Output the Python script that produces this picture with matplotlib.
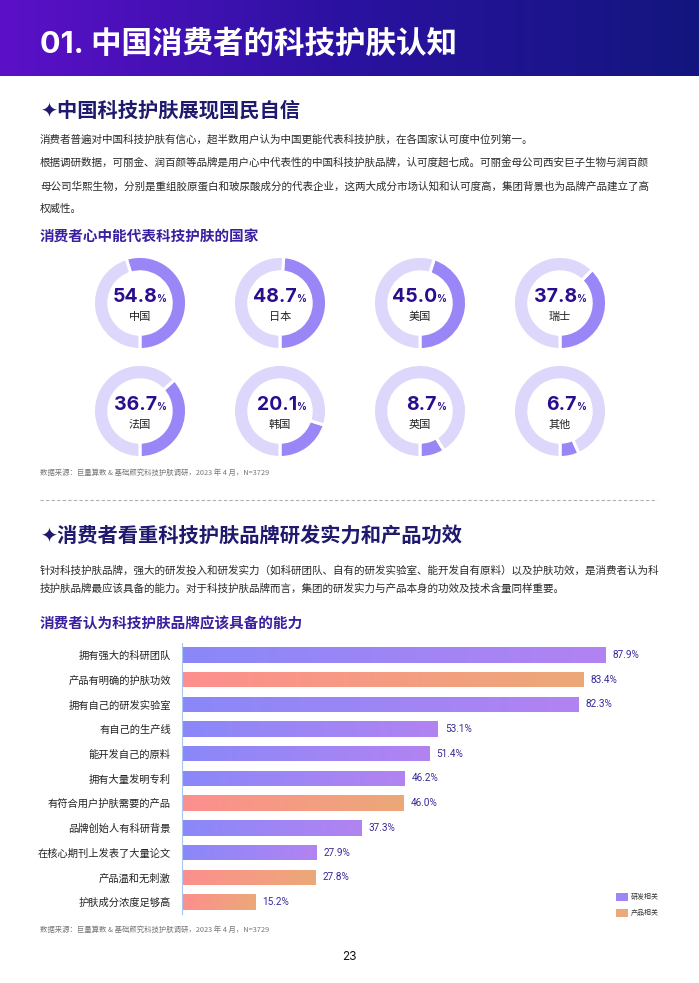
import numpy as np
import matplotlib.pyplot as plt
from matplotlib.colors import LinearSegmentedColormap
from matplotlib.patches import Rectangle

plt.rcParams['font.family'] = ['Noto Sans CJK SC', 'DejaVu Sans']

W, H = 699, 983

# donut data: which country stands for skin-care tech
countries = ['中国', '日本', '美国', '瑞士', '法国', '韩国', '英国', '其他']
country_pct = [54.8, 48.7, 45.0, 37.8, 36.7, 20.1, 8.7, 6.7]

# bar data: what a tech skin-care brand should have
abilities = ['拥有强大的科研团队', '产品有明确的护肤功效', '拥有自己的研发实验室', '有自己的生产线',
             '能开发自己的原料', '拥有大量发明专利', '有符合用户护肤需要的产品', '品牌创始人有科研背景',
             '在核心期刊上发表了大量论文', '产品温和无刺激', '护肤成分浓度足够高']
ability_pct = [87.9, 83.4, 82.3, 53.1, 51.4, 46.2, 46.0, 37.3, 27.9, 27.8, 15.2]
ability_group = ['研发相关', '产品相关', '研发相关', '研发相关', '研发相关', '研发相关',
                 '产品相关', '研发相关', '研发相关', '产品相关', '产品相关']

group_colors = {'研发相关': ('#8a88f9', '#b283f1'), '产品相关': ('#fd8f8e', '#eca878')}

NAVY = '#1f1a6e'
INDIGO = '#3a1fa0'
NUM = '#2a0d8c'
NUMFONT = ['Inter', 'Noto Sans CJK SC', 'DejaVu Sans']

fig = plt.figure(figsize=(W / 100, H / 100), dpi=100)
fig.patch.set_facecolor('white')


def px_axes(x0, y0, x1, y1):
    return fig.add_axes([x0 / W, 1 - y1 / H, (x1 - x0) / W, (y1 - y0) / H])


def T(x, y, s, **kw):
    kw.setdefault('va', 'center')
    return fig.text(x / W, 1 - y / H, s, **kw)


# background axes in pixel coords
bg = fig.add_axes([0, 0, 1, 1], zorder=-1)
bg.set_xlim(0, W)
bg.set_ylim(H, 0)
bg.axis('off')

# header band
hdr = LinearSegmentedColormap.from_list('hdr', ['#5c10c8', '#2a12a0', '#13167e'])
bg.imshow(np.linspace(0, 1, 256)[None, :], cmap=hdr, extent=[0, W, 76, 0], aspect='auto')
bg.set_xlim(0, W)
bg.set_ylim(H, 0)
T(40, 44, '01. 中国消费者的科技护肤认知', fontsize=22, fontweight='bold', color='white',
  family=['Inter', 'Noto Sans CJK SC'])

# section 1
T(40, 110, '✦中国科技护肤展现国民自信', fontsize=14.6, fontweight='bold', color=NAVY)
body1 = ['消费者普遍对中国科技护肤有信心，超半数用户认为中国更能代表科技护肤，在各国家认可度中位列第一。',
         '根据调研数据，可丽金、润百颜等品牌是用户心中代表性的中国科技护肤品牌，认可度超七成。可丽金母公司西安巨子生物与润百颜',
         '母公司华熙生物，分别是重组胶原蛋白和玻尿酸成分的代表企业，这两大成分市场认知和认可度高，集团背景也为品牌产品建立了高',
         '权威性。']
for y, line in zip([140, 163, 186, 209], body1):
    T(40, y, line, fontsize=7.6, color='#2a2a2a')
T(40, 237, '消费者心中能代表科技护肤的国家', fontsize=10.5, fontweight='bold', color=INDIGO)

# donuts
centers_x = [140, 280, 420, 560]
centers_y = [303, 411]
r = 47.5
for k, (name, p) in enumerate(zip(countries, country_pct)):
    cx = centers_x[k % 4]
    cy = centers_y[k // 4]
    ax = px_axes(cx - r, cy - r, cx + r, cy + r)
    ax.pie([p, 100 - p], colors=['#9a86f6', '#ddd8fb'], startangle=3.6 * p - 90,
           counterclock=False, radius=1,
           wedgeprops=dict(width=0.33, edgecolor='white', linewidth=2.2))
    ax.set_xlim(-1.02, 1.02)
    ax.set_ylim(-1.02, 1.02)
    T(cx + 17, cy - 6, f'{p:.1f}', ha='right', fontsize=14, fontweight='bold', color=NUM, family=NUMFONT)
    T(cx + 16.5, cy - 3.5, '%', ha='left', fontsize=7, fontweight='bold', color=NUM, family=NUMFONT)
    T(cx, cy + 14, name, ha='center', fontsize=8, color='#222222')

T(40, 473, '数据来源：巨量算数 & 基础颜究科技护肤调研，2023 年 4 月，N=3729', fontsize=5.3, color='#777777')
bg.plot([40, 657], [500, 500], color='#b0b0b0', lw=0.8, ls=(0, (3, 2)))

# section 2
T(40, 535, '✦消费者看重科技护肤品牌研发实力和产品功效', fontsize=14.6, fontweight='bold', color=NAVY)
body2 = ['针对科技护肤品牌，强大的研发投入和研发实力（如科研团队、自有的研发实验室、能开发自有原料）以及护肤功效，是消费者认为科',
         '技护肤品牌最应该具备的能力。对于科技护肤品牌而言，集团的研发实力与产品本身的功效及技术含量同样重要。']
for y, line in zip([570, 589], body2):
    T(40, y, line, fontsize=7.6, color='#2a2a2a')
T(40, 623, '消费者认为科技护肤品牌应该具备的能力', fontsize=10.5, fontweight='bold', color=INDIGO)

# bar chart
bx = px_axes(182, 642.6, 664, 914.3)
bx.set_facecolor('none')
ypos = np.arange(len(abilities))
bars = bx.barh(ypos, ability_pct, height=0.62, color='none', edgecolor='none')
grad = np.linspace(0, 1, 256)[None, :]
for b, g in zip(bars, ability_group):
    cm = LinearSegmentedColormap.from_list(g, list(group_colors[g]))
    x0, y0 = b.get_x(), b.get_y()
    im = bx.imshow(grad, cmap=cm, extent=[x0, x0 + b.get_width(), y0 + b.get_height(), y0],
                   aspect='auto', zorder=2)
    im.set_clip_path(b)
for i, v in enumerate(ability_pct):
    bx.text(v + 1.4, i, f'{v:.1f}%', va='center', ha='left', fontsize=7.2, color='#352a98',
            family=['Roboto', 'DejaVu Sans'])
bx.set_xlim(0, 100)
bx.set_ylim(len(abilities) - 0.5, -0.5)
bx.set_yticks(ypos, abilities)
bx.tick_params(axis='y', length=0, pad=8, labelsize=7.4, labelcolor='#222222')
bx.set_xticks([])
for s in ['top', 'right', 'bottom']:
    bx.spines[s].set_visible(False)
bx.spines['left'].set_color('#a9c6ef')
bx.spines['left'].set_linewidth(0.8)

# legend
for y, g in zip([897, 913], ['研发相关', '产品相关']):
    c0, c1 = group_colors[g]
    bg.add_patch(Rectangle((616, y - 4), 12, 8, color=c1 if g == '产品相关' else '#9e86f5', lw=0))
    T(631, y, g, fontsize=5, color='#333333')

T(40, 930, '数据来源：巨量算数 & 基础颜究科技护肤调研，2023 年 4 月，N=3729', fontsize=5.3, color='#777777')
T(349, 957, '23', ha='center', fontsize=8.5, color='#111111', family=['Inter', 'DejaVu Sans'])

fig.savefig('out.png', dpi=100)
